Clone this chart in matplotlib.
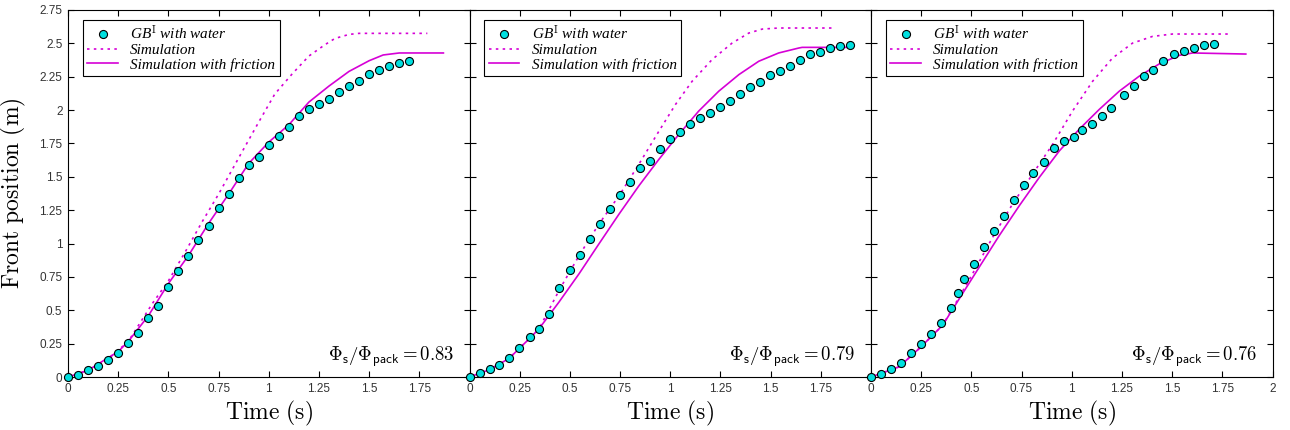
import numpy as np
import matplotlib; matplotlib.use("Agg")
import matplotlib.pyplot as plt

plt.rcParams["mathtext.fontset"] = "cm"
plt.rcParams["font.family"] = ["Liberation Sans", "DejaVu Sans"]

MAG = "#d600d6"; CYAN = "#00e0e0"

# ---- panel 1 : phi_s/phi_pack = 0.83 ----
t1 = [0, 0.05, 0.1, 0.15, 0.2, 0.25, 0.3, 0.35, 0.4, 0.45, 0.5, 0.55, 0.6, 0.65, 0.7, 0.75, 0.8, 0.85,
      0.9, 0.95, 1.0, 1.05, 1.1, 1.15, 1.2, 1.25, 1.3, 1.35, 1.4, 1.45, 1.5, 1.55, 1.6, 1.65, 1.7]
x1 = [0, 0.017, 0.05, 0.08, 0.127, 0.179, 0.254, 0.328, 0.44, 0.53, 0.672, 0.794, 0.905, 1.025, 1.132,
      1.269, 1.373, 1.488, 1.59, 1.652, 1.739, 1.803, 1.871, 1.958, 2.007, 2.045, 2.082, 2.134, 2.184,
      2.216, 2.274, 2.303, 2.333, 2.353, 2.368]
sim_t1 = [0, 0.1, 0.2, 0.3, 0.42, 0.5, 0.585, 0.667, 0.75, 0.857, 0.95, 1.03, 1.116, 1.2, 1.28, 1.33, 1.4, 1.45, 1.79]
sim_x1 = [0, 0.05, 0.135, 0.266, 0.55, 0.72, 0.94, 1.16, 1.37, 1.66, 1.91, 2.12, 2.27, 2.405, 2.49, 2.537, 2.567, 2.575, 2.575]
fr_t1 = [0, 0.1, 0.19, 0.25, 0.3, 0.4, 0.5, 0.6, 0.7, 0.8, 0.9, 1.0, 1.1, 1.2, 1.3, 1.4, 1.5, 1.57, 1.65, 1.87]
fr_x1 = [0, 0.05, 0.135, 0.19, 0.266, 0.458, 0.70, 0.91, 1.15, 1.37, 1.6, 1.76, 1.89, 2.06, 2.18, 2.29, 2.37, 2.413, 2.428, 2.428]

# ---- panel 2 : 0.79 ----
t2 = [0, 0.05, 0.1, 0.149, 0.199, 0.249, 0.299, 0.348, 0.398, 0.448, 0.499, 0.549, 0.599, 0.648, 0.698,
      0.748, 0.799, 0.849, 0.899, 0.949, 0.998, 1.048, 1.098, 1.149, 1.199, 1.249, 1.298, 1.348, 1.398,
      1.448, 1.498, 1.547, 1.597, 1.647, 1.697, 1.748, 1.798, 1.847, 1.897]
x2 = [0, 0.03, 0.057, 0.087, 0.144, 0.221, 0.296, 0.363, 0.47, 0.669, 0.799, 0.915, 1.035, 1.144, 1.259,
      1.366, 1.46, 1.565, 1.622, 1.711, 1.784, 1.833, 1.898, 1.94, 1.98, 2.022, 2.065, 2.117, 2.174,
      2.214, 2.261, 2.294, 2.331, 2.373, 2.418, 2.438, 2.468, 2.48, 2.488]
sim_t2 = [0, 0.1, 0.197, 0.3, 0.347, 0.45, 0.55, 0.645, 0.745, 0.844, 0.944, 1.026, 1.109, 1.208, 1.308, 1.391, 1.458, 1.54, 1.806]
sim_x2 = [0, 0.055, 0.139, 0.29, 0.363, 0.66, 0.92, 1.147, 1.358, 1.595, 1.843, 2.042, 2.216, 2.378, 2.502, 2.577, 2.607, 2.615, 2.615]
fr_t2 = [0, 0.1, 0.197, 0.3, 0.347, 0.446, 0.546, 0.645, 0.745, 0.844, 0.944, 1.043, 1.142, 1.242, 1.342,
         1.441, 1.54, 1.64, 1.657, 1.905]
fr_x2 = [0, 0.055, 0.139, 0.29, 0.363, 0.562, 0.774, 0.998, 1.221, 1.433, 1.632, 1.818, 1.993, 2.142, 2.266,
         2.366, 2.428, 2.465, 2.47, 2.47]

# ---- panel 3 : 0.76 ----
t3 = [0, 0.05, 0.101, 0.151, 0.199, 0.249, 0.299, 0.349, 0.4, 0.433, 0.461, 0.511, 0.561, 0.611, 0.661,
      0.71, 0.76, 0.808, 0.86, 0.913, 0.961, 1.011, 1.049, 1.1, 1.15, 1.198, 1.258, 1.308, 1.358, 1.407,
      1.457, 1.507, 1.557, 1.607, 1.66, 1.708]
x3 = [0, 0.025, 0.06, 0.104, 0.177, 0.249, 0.321, 0.408, 0.515, 0.627, 0.734, 0.846, 0.975, 1.092, 1.204,
      1.323, 1.435, 1.525, 1.612, 1.714, 1.771, 1.796, 1.848, 1.896, 1.953, 2.012, 2.112, 2.184, 2.256,
      2.303, 2.368, 2.423, 2.445, 2.468, 2.49, 2.498]
sim_t3 = [0, 0.141, 0.249, 0.357, 0.44, 0.506, 0.606, 0.705, 0.805, 0.905, 1.004, 1.104, 1.203, 1.303, 1.402, 1.502, 1.784]
sim_x3 = [0, 0.077, 0.226, 0.388, 0.6, 0.774, 1.047, 1.296, 1.52, 1.744, 1.993, 2.216, 2.39, 2.502, 2.552, 2.57, 2.57]
fr_t3 = [0, 0.141, 0.249, 0.357, 0.44, 0.539, 0.639, 0.739, 0.838, 0.938, 1.037, 1.137, 1.237, 1.336, 1.436,
         1.535, 1.602, 1.867]
fr_x3 = [0, 0.077, 0.226, 0.388, 0.587, 0.823, 1.06, 1.284, 1.495, 1.694, 1.856, 2.005, 2.142, 2.254, 2.346,
         2.41, 2.428, 2.42]

ratios = ["0.83", "0.79", "0.76"]
panels = [(t1, x1, sim_t1, sim_x1, fr_t1, fr_x1), (t2, x2, sim_t2, sim_x2, fr_t2, fr_x2),
          (t3, x3, sim_t3, sim_x3, fr_t3, fr_x3)]
xt_labels = ["0", "0.25", "0.5", "0.75", "1", "1.25", "1.5", "1.75", "2"]
yt_labels = ["0", "0.25", "0.5", "0.75", "1", "1.25", "1.5", "1.75", "2", "2.25", "2.5", "2.75"]

fig = plt.figure(figsize=(12.9, 4.3), dpi=100)
L = 68/1290; W = 401.5/1290; B = 53/430; H = 367/430
for i, (t, x, st, sx, ft, fx) in enumerate(panels):
    ax = fig.add_axes([L + i*W, B, W, H])
    ax.plot(st, sx, color=MAG, lw=1.2, ls=(0, (1.5, 2.6)), label="Simulation", zorder=2)
    ax.plot(ft, fx, color=MAG, lw=1.2, label="Simulation with friction", zorder=3)
    ax.plot(t, x, "o", ms=5.8, mfc=CYAN, mec="black", mew=0.8,
            label=r"GB$^{\mathrm{I}}$ with water", zorder=4, clip_on=False)
    ax.set_xlim(0, 2); ax.set_ylim(0, 2.75)
    nx = 9 if i == 2 else 8
    ax.set_xticks(np.arange(nx)*0.25)
    ax.set_xticklabels(xt_labels[:nx])
    ax.set_yticks(np.arange(12)*0.25)
    if i == 0:
        ax.set_yticklabels(yt_labels)
        ax.set_ylabel(r"$\mathrm{Front\ position\ (m)}$", fontsize=17, labelpad=8)
    else:
        ax.set_yticklabels([])
    ax.tick_params(direction="in", top=True, right=True, length=4, width=0.8,
                   labelsize=8.5, colors="black", labelcolor="#333333", pad=4)
    for s in ax.spines.values(): s.set_linewidth(0.8)
    ax.set_xlabel(r"$\mathrm{Time\ (s)}$", fontsize=17, labelpad=3)
    ax.text(0.962, 0.022, r"$\Phi_{\mathsf{s}}/\Phi_{\mathsf{pack}} = %s$" % ratios[i],
            transform=ax.transAxes, ha="right", va="bottom", fontsize=13.5)
    h, l = ax.get_legend_handles_labels()
    leg = ax.legend([h[2], h[0], h[1]], [l[2], l[0], l[1]], loc="upper left",
                    bbox_to_anchor=(0.037, 0.973), fancybox=False, framealpha=1, edgecolor="black",
                    prop={"family": "Liberation Serif", "style": "italic", "size": 11},
                    handlelength=2.0, borderpad=0.3, labelspacing=0.05, handletextpad=0.8, borderaxespad=0)
    leg.get_frame().set_linewidth(0.8)

fig.savefig("out.png", dpi=100)
